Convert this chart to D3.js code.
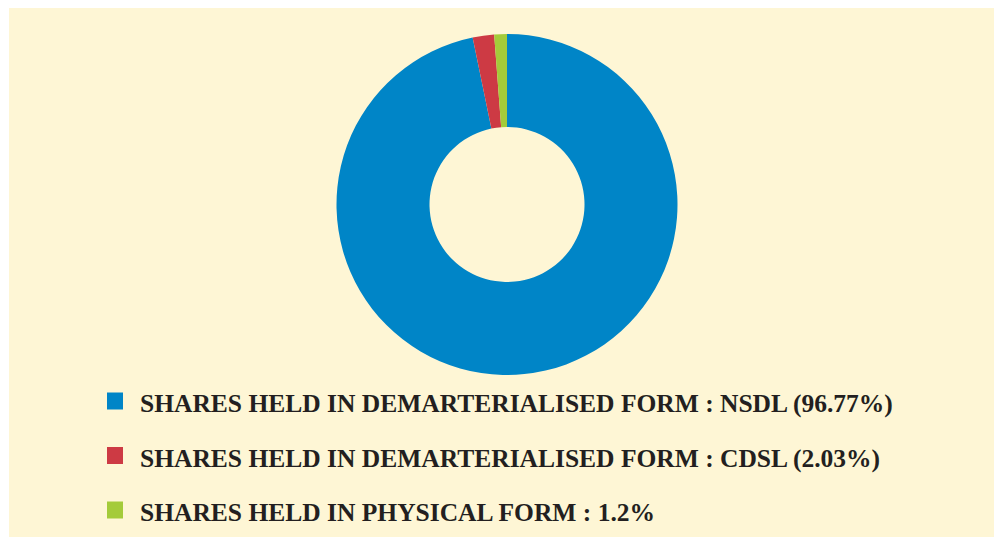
<!DOCTYPE html>
<html>
<head>
<meta charset="utf-8">
<script src="https://cdn.jsdelivr.net/npm/d3@7"></script>
<style>
  html, body { margin: 0; padding: 0; background: #ffffff; }
  svg { display: block; }
</style>
</head>
<body>
<svg id="chart" width="994" height="537"></svg>
<script>
const labels = [
  'SHARES HELD IN DEMARTERIALISED FORM : NSDL (96.77%)',
  'SHARES HELD IN DEMARTERIALISED FORM : CDSL (2.03%)',
  'SHARES HELD IN PHYSICAL FORM : 1.2%'
]
const values = [96.77, 2.03, 1.2]
const colors = ['#0085c7', '#cd3a44', '#a4cb3a']

const width = 994
const height = 537
const svg = d3.select('#chart')

// cream panel
svg.append('rect')
  .attr('x', 9).attr('y', 8)
  .attr('width', width - 9).attr('height', height - 8)
  .attr('fill', '#fef6d5')

const cx = 507
const cy = 204.5
const outerR = 170.5
const innerR = 77.5

const pie = d3.pie().sort(null).value(d => d)
const arc = d3.arc().innerRadius(innerR).outerRadius(outerR)

svg.append('g')
  .attr('transform', `translate(${cx},${cy})`)
  .selectAll('path')
  .data(pie(values))
  .join('path')
  .attr('d', arc)
  .attr('fill', (d, i) => colors[i])

// legend
const legendY = d3.scalePoint().domain(d3.range(labels.length)).range([401, 510])

const item = svg.append('g')
  .selectAll('g')
  .data(labels)
  .join('g')
  .attr('transform', (d, i) => `translate(107,${legendY(i)})`)

item.append('rect')
  .attr('x', 0).attr('y', -8.5)
  .attr('width', 16).attr('height', 17)
  .attr('fill', (d, i) => colors[i])

item.append('text')
  .attr('x', 33).attr('y', 11)
  .attr('font-family', '"Liberation Serif", "Times New Roman", serif')
  .attr('font-weight', 'bold')
  .attr('font-size', 25.5)
  .attr('fill', '#231f20')
  .text(d => d)
</script>
</body>
</html>
